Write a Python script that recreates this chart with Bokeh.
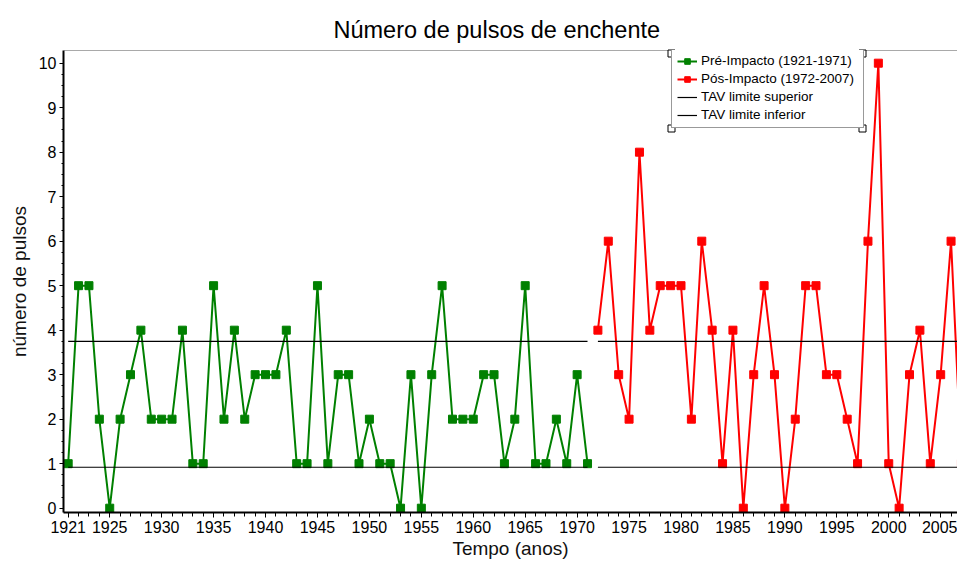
from bokeh.plotting import figure
from bokeh.models import (ColumnDataSource, Legend, LegendItem, FixedTicker,
                          Span, Range1d)
from bokeh.embed import file_html
from bokeh.resources import INLINE

# ---- data ----
pre_years = list(range(1921, 1972))
pre_values = [1, 5, 5, 2, 0, 2, 3, 4, 2, 2,
              2, 4, 1, 1, 5, 2, 4, 2, 3, 3,
              3, 4, 1, 1, 5, 1, 3, 3, 1, 2,
              1, 1, 0, 3, 0, 3, 5, 2, 2, 2,
              3, 3, 1, 2, 5, 1, 1, 2, 1, 3,
              1]
post_years = list(range(1972, 2008))
post_values = [4, 6, 3, 2, 8, 4, 5, 5, 5, 2,
               6, 4, 1, 4, 0, 3, 5, 3, 0, 2,
               5, 5, 3, 3, 2, 1, 6, 10, 1, 0,
               3, 4, 1, 3, 6, 1]
tav_upper = 3.75
tav_lower = 0.92
x_tick_labels = [1921, 1925, 1930, 1935, 1940, 1945, 1950, 1955, 1960,
                 1965, 1970, 1975, 1980, 1985, 1990, 1995, 2000, 2005]
y_ticks = list(range(0, 11))

FONT = "Liberation Sans"

# layout (pixels)
W, H = 957, 563
B_LEFT, B_TOP, B_BOTTOM = 63, 50, 51
X0, X1 = 1920.55, 2006.62
Y0, Y1 = -0.097, 10.285

p = figure(width=W, height=H, output_backend="svg", toolbar_location=None,
           x_range=Range1d(X0, X1), y_range=Range1d(Y0, Y1),
           min_border_left=B_LEFT, min_border_right=0, min_border_top=B_TOP,
           min_border_bottom=B_BOTTOM)

p.title.text = "Número de pulsos de enchente"
p.title.align = "left"
p.title.offset = 270
p.title.standoff = 16
p.title.text_font = FONT
p.title.text_font_size = "23.5px"
p.title.text_font_style = "normal"
p.title.text_color = "#000000"

p.grid.visible = False
p.outline_line_color = None
p.background_fill_color = "white"
p.border_fill_color = "white"

green_src = ColumnDataSource(dict(x=pre_years, y=pre_values))
red_src = ColumnDataSource(dict(x=post_years, y=post_values))

g_line = p.line("x", "y", source=green_src, line_color="#008000", line_width=2)
g_pts = p.scatter("x", "y", source=green_src, marker="square", size=8,
                  fill_color="#008000", line_color="#008000")
r_line = p.line("x", "y", source=red_src, line_color="#ff0000", line_width=2)
r_pts = p.scatter("x", "y", source=red_src, marker="square", size=8,
                  fill_color="#ff0000", line_color="#ff0000")

# TAV lines per period
up1 = p.line([pre_years[0], pre_years[-1]], [tav_upper, tav_upper], line_color="black", line_width=1.2)
up2 = p.line([post_years[0], post_years[-1]], [tav_upper, tav_upper], line_color="black", line_width=1.2)
lo1 = p.line([pre_years[0], pre_years[-1]], [tav_lower, tav_lower], line_color="black", line_width=1.2)
lo2 = p.line([post_years[0], post_years[-1]], [tav_lower, tav_lower], line_color="black", line_width=1.2)

# top border of the frame
p.add_layout(Span(location=Y1, dimension="width", line_color="#555555", line_width=1))

# axes
xa = p.xaxis[0]
xa.ticker = FixedTicker(ticks=x_tick_labels, minor_ticks=list(range(1921, 2008)))
xa.axis_line_width = 2
xa.axis_line_color = "black"
xa.major_tick_out = 5
xa.major_tick_in = 0
xa.minor_tick_out = 4
xa.minor_tick_in = 0
xa.major_tick_line_color = "black"
xa.minor_tick_line_color = "black"
xa.major_label_text_font = FONT
xa.major_label_text_font_size = "16px"
xa.major_label_text_color = "#000000"
xa.major_label_standoff = 3
xa.axis_label = "Tempo (anos)"
xa.axis_label_text_font = FONT
xa.axis_label_text_font_size = "19px"
xa.axis_label_text_font_style = "normal"
xa.axis_label_text_color = "#111111"
xa.axis_label_standoff = 2

ya = p.yaxis[0]
ya.ticker = FixedTicker(ticks=y_ticks,
                        minor_ticks=[i / 4 for i in range(0, 41)])
ya.axis_line_width = 2
ya.axis_line_color = "black"
ya.major_tick_out = 4
ya.major_tick_in = 0
ya.minor_tick_out = 2
ya.minor_tick_in = 0
ya.major_tick_line_color = "black"
ya.minor_tick_line_color = "black"
ya.major_label_text_font = FONT
ya.major_label_text_font_size = "16px"
ya.major_label_text_color = "#000000"
ya.major_label_standoff = 3
ya.axis_label = "número de pulsos"
ya.axis_label_text_font = FONT
ya.axis_label_text_font_size = "19px"
ya.axis_label_text_font_style = "normal"
ya.axis_label_text_color = "#111111"
ya.axis_label_standoff = 6

# legend box geometry (pixels, relative to the frame's bottom-left)
LEG_X, LEG_Y = 608, 384
PAD, GLYPH_W, STANDOFF, LABEL_W, ROW_H, SPACING = 5, 20, 4, 157, 14, 3
LEG_W = 2 * PAD + GLYPH_W + STANDOFF + LABEL_W
LEG_H = 2 * PAD + 4 * ROW_H + 3 * SPACING

legend = Legend(items=[
    LegendItem(label="Pré-Impacto (1921-1971)", renderers=[g_line, g_pts]),
    LegendItem(label="Pós-Impacto (1972-2007)", renderers=[r_line, r_pts]),
    LegendItem(label="TAV limite superior", renderers=[up1]),
    LegendItem(label="TAV limite inferior", renderers=[lo1]),
], location=(LEG_X, LEG_Y))
legend.label_text_font = FONT
legend.label_text_font_size = "13.5px"
legend.label_text_color = "#000000"
legend.label_height = ROW_H
legend.glyph_height = ROW_H
legend.glyph_width = GLYPH_W
legend.label_width = LABEL_W
legend.label_standoff = STANDOFF
legend.spacing = SPACING
legend.padding = PAD
legend.margin = 0
legend.border_line_color = "#333333"
legend.border_line_width = 1
legend.background_fill_color = "white"
legend.background_fill_alpha = 1
p.add_layout(legend)

# selection handles at the legend's corners (decoration)
frame_w = W - B_LEFT
frame_h = H - B_TOP - B_BOTTOM
sx = (X1 - X0) / frame_w
sy = (Y1 - Y0) / frame_h
hx = [X0 + (LEG_X + dx) * sx for dx in (0, LEG_W, 0, LEG_W)]
hy = [Y0 + (LEG_Y + dy) * sy for dy in (0, 0, LEG_H, LEG_H)]
p.scatter(hx, hy, marker="square", size=7, fill_color="white",
          line_color="black", line_width=1, level="overlay")

open("out.html", "w").write(file_html(p, INLINE))
